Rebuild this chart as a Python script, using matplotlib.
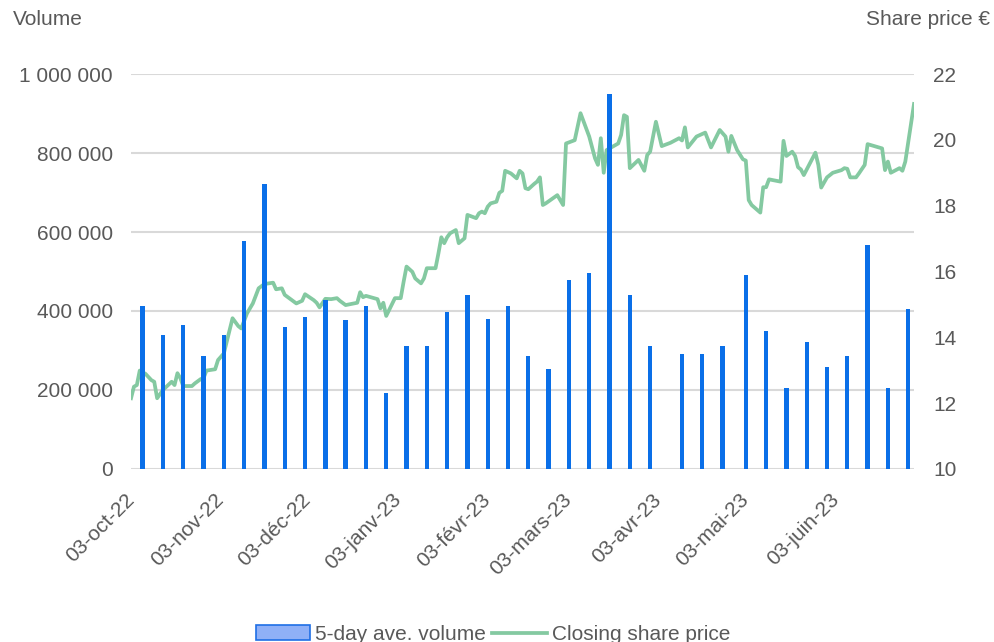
import pandas as pd
import matplotlib
matplotlib.use('Agg')
import matplotlib.pyplot as plt
import matplotlib.ticker as mticker
from matplotlib.patches import Patch
from matplotlib.lines import Line2D
from matplotlib.transforms import ScaledTranslation

# 5-day average volume (one bar per 5 trading days)
bar_dates = ['2022-10-07', '2022-10-14', '2022-10-21', '2022-10-28', '2022-11-04', '2022-11-11',
             '2022-11-18', '2022-11-25', '2022-12-02', '2022-12-09', '2022-12-16', '2022-12-23',
             '2022-12-30', '2023-01-06', '2023-01-13', '2023-01-20', '2023-01-27', '2023-02-03',
             '2023-02-10', '2023-02-17', '2023-02-24', '2023-03-03', '2023-03-10', '2023-03-17',
             '2023-03-24', '2023-03-31', '2023-04-11', '2023-04-18', '2023-04-25', '2023-05-03',
             '2023-05-10', '2023-05-17', '2023-05-24', '2023-05-31', '2023-06-07', '2023-06-14',
             '2023-06-21', '2023-06-28']
bar_volume = [413000, 338000, 364000, 285000, 338000, 576000, 721000, 360000, 386000, 429000,
              376000, 413000, 193000, 312000, 312000, 398000, 441000, 381000, 413000, 285000,
              252000, 479000, 495000, 949000, 441000, 312000, 290000, 290000, 312000, 490000,
              349000, 204000, 322000, 258000, 285000, 566000, 204000, 404000]

# closing share price
price_dates = [
    '2022-10-03', '2022-10-04', '2022-10-05', '2022-10-06', '2022-10-08', '2022-10-10', '2022-10-11',
    '2022-10-12', '2022-10-14', '2022-10-17', '2022-10-18', '2022-10-19', '2022-10-20', '2022-10-21',
    '2022-10-24', '2022-10-25', '2022-10-27', '2022-10-28', '2022-10-29',
    '2022-11-01', '2022-11-02', '2022-11-04', '2022-11-05', '2022-11-07', '2022-11-09', '2022-11-10',
    '2022-11-12', '2022-11-14', '2022-11-16', '2022-11-18', '2022-11-21', '2022-11-22', '2022-11-24',
    '2022-11-25', '2022-11-29',
    '2022-12-01', '2022-12-02', '2022-12-05', '2022-12-06', '2022-12-07', '2022-12-09', '2022-12-11',
    '2022-12-13', '2022-12-14', '2022-12-16', '2022-12-20', '2022-12-21', '2022-12-22', '2022-12-23',
    '2022-12-27', '2022-12-28', '2022-12-29', '2022-12-30',
    '2023-01-02', '2023-01-04', '2023-01-05', '2023-01-06', '2023-01-08', '2023-01-09', '2023-01-11',
    '2023-01-12', '2023-01-13', '2023-01-16', '2023-01-17', '2023-01-18', '2023-01-19', '2023-01-20',
    '2023-01-21', '2023-01-23', '2023-01-24', '2023-01-26', '2023-01-27', '2023-01-30', '2023-01-31',
    '2023-02-01', '2023-02-02', '2023-02-03', '2023-02-04', '2023-02-06', '2023-02-07', '2023-02-08',
    '2023-02-09', '2023-02-11', '2023-02-13', '2023-02-14', '2023-02-15', '2023-02-16', '2023-02-17',
    '2023-02-19', '2023-02-20', '2023-02-21', '2023-02-22', '2023-02-23', '2023-02-27',
    '2023-03-01', '2023-03-02', '2023-03-05', '2023-03-07', '2023-03-10', '2023-03-12', '2023-03-13',
    '2023-03-14', '2023-03-15', '2023-03-16', '2023-03-18', '2023-03-20', '2023-03-21', '2023-03-22',
    '2023-03-23', '2023-03-24', '2023-03-27', '2023-03-29', '2023-03-30', '2023-03-31',
    '2023-04-02', '2023-04-04', '2023-04-07', '2023-04-10', '2023-04-11', '2023-04-12', '2023-04-13',
    '2023-04-16', '2023-04-19', '2023-04-21', '2023-04-24', '2023-04-26', '2023-04-27', '2023-04-28',
    '2023-04-30',
    '2023-05-02', '2023-05-03', '2023-05-04', '2023-05-05', '2023-05-08', '2023-05-09', '2023-05-10',
    '2023-05-11', '2023-05-15', '2023-05-16', '2023-05-17', '2023-05-19', '2023-05-20', '2023-05-21',
    '2023-05-22', '2023-05-23', '2023-05-27', '2023-05-28', '2023-05-29', '2023-05-31',
    '2023-06-02', '2023-06-05', '2023-06-06', '2023-06-07', '2023-06-08', '2023-06-10', '2023-06-11',
    '2023-06-13', '2023-06-14', '2023-06-19', '2023-06-20', '2023-06-21', '2023-06-22', '2023-06-25',
    '2023-06-26', '2023-06-27', '2023-06-30']
price_close = [
    12.15, 12.50, 12.55, 12.99, 12.89, 12.70, 12.65, 12.15, 12.40, 12.65, 12.55, 12.91, 12.76, 12.52,
    12.52, 12.60, 12.73, 12.76, 12.99,
    13.03, 13.31, 13.51, 13.87, 14.58, 14.34, 14.27, 14.73, 15.03, 15.49, 15.62, 15.66, 15.46, 15.49,
    15.29, 15.03,
    15.11, 15.31, 15.13, 15.05, 14.91, 15.17, 15.16, 15.19, 15.11, 14.98, 15.05, 15.37, 15.22, 15.26,
    15.16, 14.88, 15.05, 14.65,
    15.19, 15.19, 15.69, 16.15, 15.99, 15.79, 15.64, 15.79, 16.10, 16.10, 16.55, 17.04, 16.86, 17.04,
    17.16, 17.26, 16.86, 17.01, 17.72, 17.62, 17.77,
    17.82, 17.77, 17.97, 18.07, 18.12, 18.39, 18.45, 19.06, 18.98, 18.83, 19.06, 18.98, 18.53, 18.50,
    18.66, 18.73, 18.86, 18.02, 18.07, 18.32,
    18.02, 19.89, 19.99, 20.81, 20.10, 19.44, 19.24, 20.05, 19.00, 19.69, 19.79, 19.89, 20.15, 20.75,
    20.70, 19.14, 19.39, 19.06, 19.54, 19.64,
    20.55, 19.81, 19.91, 20.05, 19.98, 20.38, 19.77, 20.10, 20.22, 19.77, 20.30, 20.10, 19.64, 20.12,
    19.69,
    19.41, 19.37, 18.17, 18.02, 17.79, 18.56, 18.56, 18.80, 18.73, 19.97, 19.51, 19.64, 19.51, 19.17,
    19.10, 18.93, 19.61, 19.24, 18.55, 18.86,
    19.00, 19.08, 19.14, 19.12, 18.86, 18.86, 18.98, 19.24, 19.87, 19.74, 19.08, 19.34, 19.00, 19.14,
    19.06, 19.34, 21.09]

tick_dates = ['2022-10-03', '2022-11-03', '2022-12-03', '2023-01-03', '2023-02-03',
              '2023-03-03', '2023-04-03', '2023-05-03', '2023-06-03']
tick_labels = ['03-oct-22', '03-nov-22', '03-déc-22', '03-janv-23', '03-févr-23',
               '03-mars-23', '03-avr-23', '03-mai-23', '03-juin-23']

bar_color = '#0a6fe8'
line_color = '#84c9a1'
text_color = '#595959'
grid_color = '#d9d9d9'
fs = 15

plt.rcParams['font.family'] = ['Liberation Sans', 'DejaVu Sans']

bx = pd.to_datetime(bar_dates)
px = pd.to_datetime(price_dates)

fig = plt.figure(figsize=(9.95, 6.42), dpi=100)
ax = fig.add_axes([0.1317, 0.2695, 0.7869, 0.6152])   # grid + left axis
ax2 = ax.twinx()                                      # price line
ax3 = ax.twinx()                                      # volume bars on top

ax.set_ylim(0, 1000000)
ax.set_yticks(range(0, 1000001, 200000))
ax.yaxis.set_major_formatter(mticker.FuncFormatter(lambda v, _: f'{int(v):,}'.replace(',', ' ')))
ax.grid(axis='y', color=grid_color, linewidth=1.5)
ax.set_axisbelow(True)

ax2.plot(px, price_close, color=line_color, linewidth=2.7, solid_joinstyle='round')
ax2.set_ylim(10, 22)
ax2.set_yticks(range(10, 23, 2))

ax3.bar(bx, bar_volume, width=1.5, color=bar_color)
ax3.set_ylim(0, 1000000)
ax3.set_yticks([])

ax.set_xlim(pd.Timestamp('2022-10-03'), pd.Timestamp('2023-06-30'))
ax.set_xticks(pd.to_datetime(tick_dates))
ax.set_xticklabels(tick_labels, rotation=45, ha='right', va='center', rotation_mode='anchor')
shift = ScaledTranslation(0.04, 0, fig.dpi_scale_trans)
for lab in ax.get_xticklabels():
    lab.set_transform(lab.get_transform() + shift)

for a in (ax, ax2, ax3):
    for s in a.spines.values():
        s.set_visible(False)
    a.tick_params(length=0, labelsize=fs, labelcolor=text_color)
ax.tick_params(axis='y', pad=13)
ax2.tick_params(axis='y', pad=14)
ax.tick_params(axis='x', pad=20)

fig.text(0.013, 0.970, 'Volume', fontsize=fs, color=text_color, ha='left', va='center')
fig.text(0.995, 0.970, 'Share price €', fontsize=fs, color=text_color, ha='right', va='center')

handles = [Patch(facecolor='#8fb0f7', edgecolor='#1f6fe5', linewidth=1.2),
           Line2D([], [], color=line_color, linewidth=2.7)]
fig.legend(handles, ['5-day ave. volume', 'Closing share price'], loc='center',
           bbox_to_anchor=(0.4955, 0.012), ncol=2, frameon=False, fontsize=fs,
           handlelength=2.6, handletextpad=0.25, columnspacing=0.3, labelcolor=text_color)

fig.savefig('out.png', dpi=100)
